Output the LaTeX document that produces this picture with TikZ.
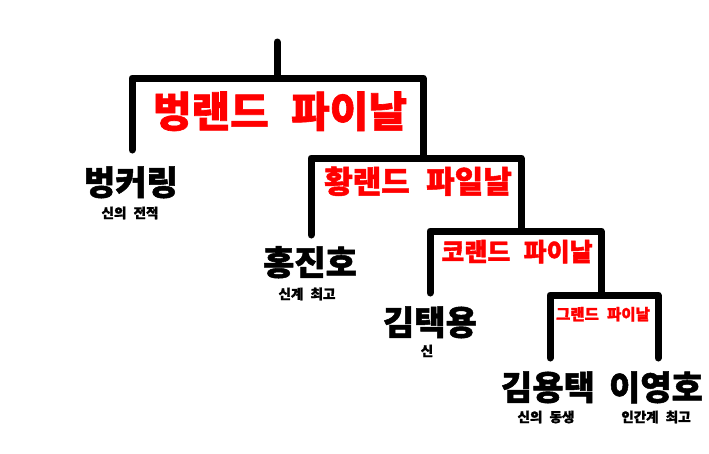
\documentclass[tikz,border=0pt]{standalone}
\usepackage{fontspec}
\setmainfont{Noto Sans CJK KR}[BoldFeatures={FakeBold=1.5}]
\newcommand{\wsp}{\hspace{0.3em} }
\begin{document}
\begin{tikzpicture}[x=1pt,y=-1pt,
  br/.style={line width=7pt, line cap=round, line join=round},
  win/.style={text=red, inner sep=0pt, anchor=base, font=\bfseries\fontsize{#1}{#1}\selectfont},
  player/.style={text=black, inner sep=0pt, anchor=base, font=\bfseries\fontsize{34}{34}\selectfont},
  note/.style={text=black, inner sep=0pt, anchor=base, font=\bfseries\fontsize{13.5}{13.5}\selectfont}]
\useasboundingbox (0,0) rectangle (709,453);
% bracket coordinates
\coordinate (root) at (277,42);
\coordinate (b1m) at (277,78);
\coordinate (b1l) at (132,78);
\coordinate (b1r) at (423,78);
\coordinate (p1) at (132,150);
\coordinate (b2l) at (311,158);
\coordinate (b2r) at (521,158);
\coordinate (b2m) at (423,158);
\coordinate (p2) at (311,235);
\coordinate (b3l) at (430,231);
\coordinate (b3r) at (601,231);
\coordinate (b3m) at (521,231);
\coordinate (p3) at (430,293);
\coordinate (b4l) at (550,295);
\coordinate (b4r) at (658,295);
\coordinate (b4m) at (601,295);
\coordinate (p4) at (550,358);
\coordinate (p5) at (658,358);
% brackets
\draw[br] (root) -- (b1m);
\draw[br] (p1) -- (b1l) -- (b1r) -- (b2m);
\draw[br] (p2) -- (b2l) -- (b2r) -- (b3m);
\draw[br] (p3) -- (b3l) -- (b3r) -- (b4m);
\draw[br] (p4) -- (b4l) -- (b4r) -- (p5);
% finals
\node[win=42] (f1) at (280,127) {벙랜드\wsp 파이날};
\node[win=31] (f2) at (418,193) {황랜드\wsp 파일날};
\node[win=25] (f3) at (517,261) {코랜드\wsp 파이날};
\node[win=15.5] (f4) at (603,320) {그랜드\wsp 파이날};
% players
\node[player] (n1) at (131,195) {벙커링};
\node[note] (t1) at (130,218) {신의\wsp 전적};
\node[player] (n2) at (310,275) {홍진호};
\node[note] (t2) at (307,299) {신계\wsp 최고};
\node[player] (n3) at (430,335) {김택용};
\node[note] (t3) at (427,356) {신};
\node[player] (n4) at (548,400) {김용택};
\node[note] (t4) at (546,422) {신의\wsp 동생};
\node[player] (n5) at (656,400) {이영호};
\node[note] (t5) at (656,422) {인간계\wsp 최고};
\end{tikzpicture}
\end{document}
